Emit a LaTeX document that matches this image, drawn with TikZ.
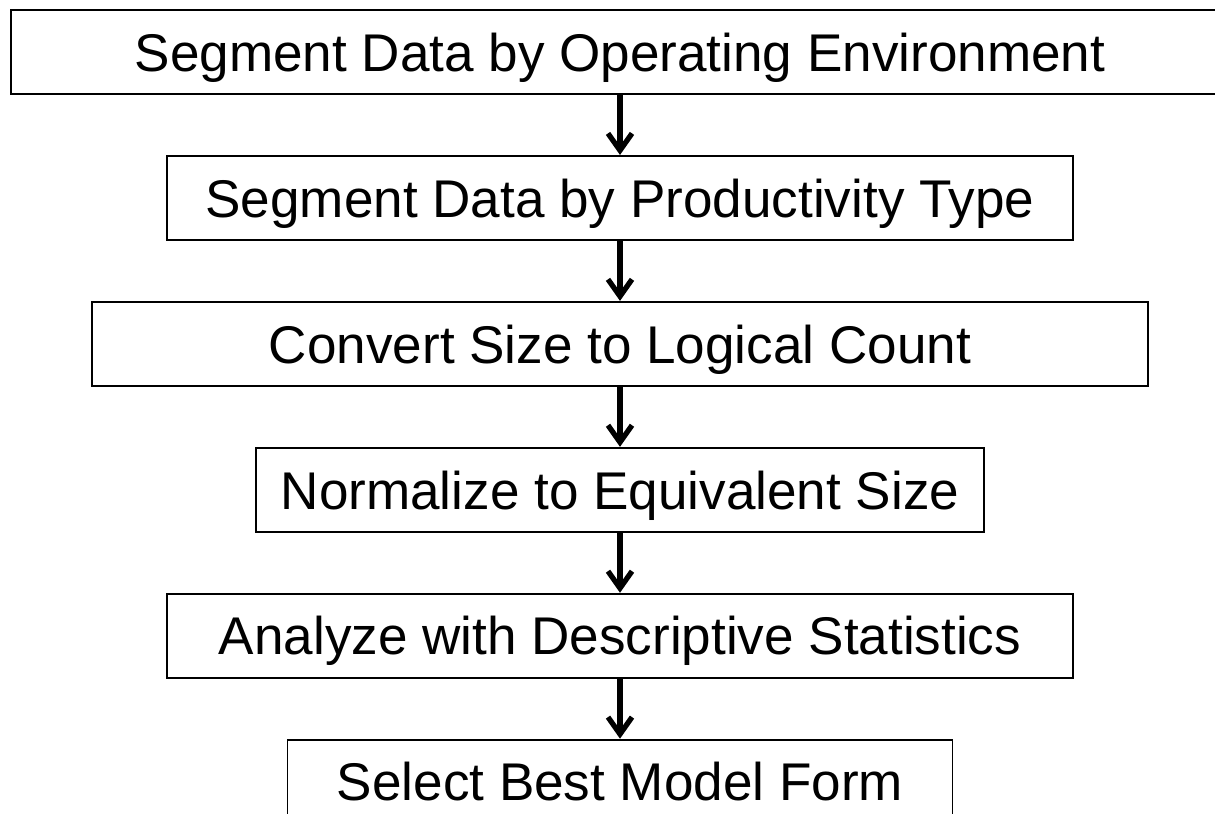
\documentclass[tikz,border=0pt]{standalone}
\usepackage{fontspec}
\setmainfont{Liberation Sans}
\usetikzlibrary{positioning,arrows.meta}
\tikzset{stepbox/.style={draw,line width=1.1pt,minimum height=1.68cm,inner sep=0pt,
  text height=0.77cm,text depth=0pt,font=\fontsize{30.2}{36}\selectfont},
  flow/.style={line width=3pt,-{Straight Barb[length=0.34cm,width=0.48cm]}}}

\begin{document}
\begin{tikzpicture}
\useasboundingbox (0,0) rectangle (24.3,-16.28);
\clip (0,0) rectangle (24.3,-16.28);

% steps, top to bottom
\node[stepbox,minimum width=24.36cm] (env) at (12.4,-1.04) {Segment Data by Operating Environment};
\node[stepbox,minimum width=18.12cm,below=1.2cm of env] (prod) {Segment Data by Productivity Type};
\node[stepbox,minimum width=21.12cm,below=1.2cm of prod] (conv) {Convert Size to Logical Count};
\node[stepbox,minimum width=14.56cm,below=1.2cm of conv] (norm) {Normalize to Equivalent Size};
\node[stepbox,minimum width=18.12cm,below=1.2cm of norm] (anal) {Analyze with Descriptive Statistics};
\node[stepbox,minimum width=13.3cm,below=1.2cm of anal] (sel) {Select Best Model Form};

% arrows
\draw[flow] (env) -- (prod);
\draw[flow] (prod) -- (conv);
\draw[flow] (conv) -- (norm);
\draw[flow] (norm) -- (anal);
\draw[flow] (anal) -- (sel);
\end{tikzpicture}
\end{document}
